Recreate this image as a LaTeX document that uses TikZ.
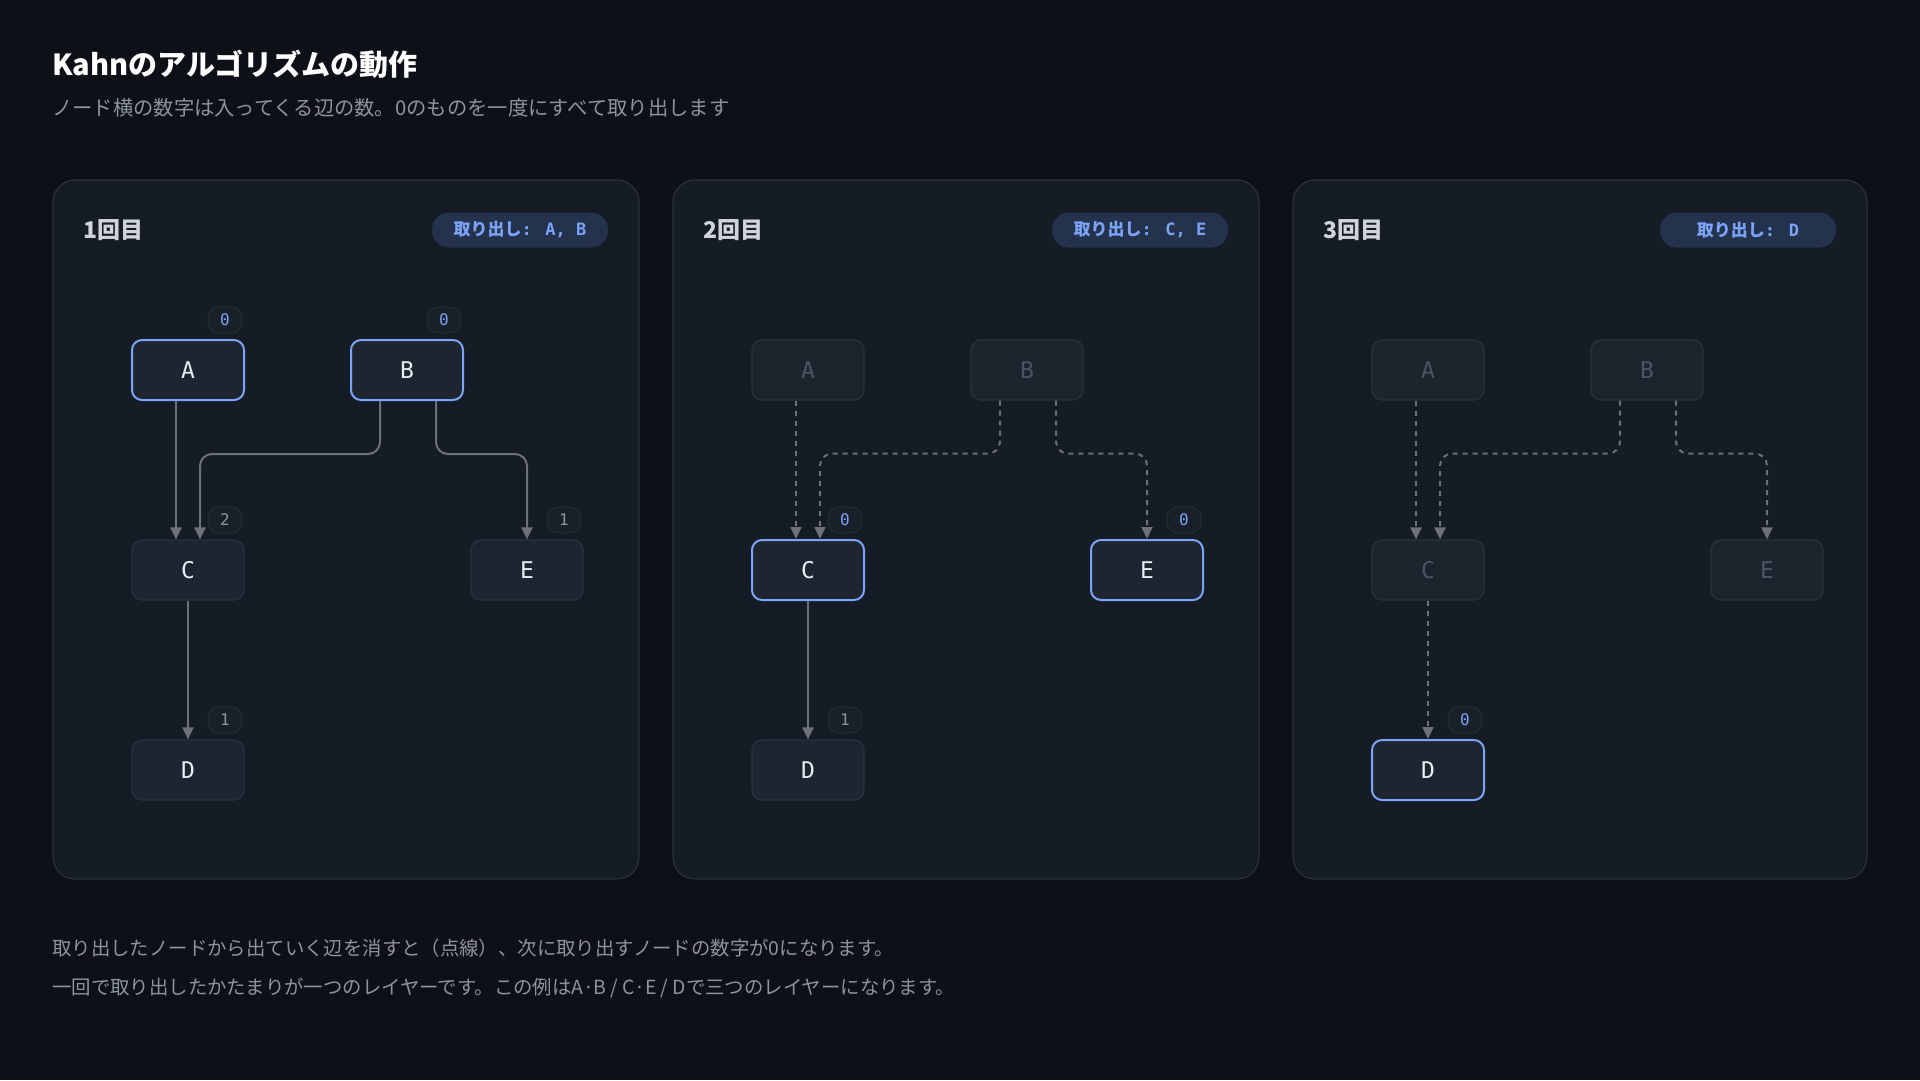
\documentclass[tikz,border=0pt]{standalone}
\usepackage{fontspec}
\setmainfont{Noto Sans CJK JP}
\newfontfamily\cjk{Noto Sans CJK JP}
\newfontfamily\mono{DejaVu Sans Mono}
\usetikzlibrary{arrows.meta,calc}
\definecolor{bg}{HTML}{0D1117}
\definecolor{panel}{HTML}{161C25}
\definecolor{pborder}{HTML}{2A313B}
\definecolor{nfill}{HTML}{1E2530}
\definecolor{nborder}{HTML}{2B323D}
\definecolor{blue}{HTML}{7BA4F7}
\definecolor{edgec}{HTML}{6B7079}
\definecolor{txt}{HTML}{E6EDF3}
\definecolor{sub}{HTML}{8B949E}
\definecolor{dimtxt}{HTML}{4B5461}
\definecolor{pill}{HTML}{25324D}
\definecolor{badge}{HTML}{1A202A}
\tikzset{
  nd/.style={draw=nborder,line width=1.2pt,fill=nfill,rounded corners=10pt,minimum width=112pt,minimum height=60pt,text=txt,font=\mono\fontsize{23}{23}\selectfont,inner sep=0pt},
  act/.style={nd,draw=blue,line width=2pt},
  dim/.style={nd,text=dimtxt,fill=nfill!85!panel},
  e/.style={draw=edgec,line width=2pt,-{Triangle[length=12pt,width=11pt]},rounded corners=12pt},
  ed/.style={e,dash pattern=on 5pt off 5pt},
  bdg/.style={fill=badge,draw=nborder,line width=0.8pt,rounded corners=11pt,minimum width=34pt,minimum height=26pt,inner sep=0pt,font=\mono\fontsize{16}{16}\selectfont},
  bz/.style={bdg,text=blue},
  bn/.style={bdg,text=sub},
  pnl/.style={fill=panel,draw=pborder,line width=1.2pt,rounded corners=22pt},
  pl/.style={fill=pill,rounded corners=17pt,minimum width=176pt,minimum height=35pt,inner sep=0pt,text=blue,font=\fontsize{17}{17}\selectfont\bfseries},
  pt/.style={anchor=west,text=txt!90!black,font=\fontsize{23}{23}\selectfont\bfseries},
}
\begin{document}
\begin{tikzpicture}[x=1pt,y=-1pt]
\fill[bg] (0,0) rectangle (1920,1080);
\useasboundingbox (0,0) rectangle (1920,1080);
\node[anchor=west,text=white,font=\fontsize{29}{29}\selectfont\bfseries,inner sep=0pt] (title) at (52,64) {Kahnのアルゴリズムの動作};
\node[anchor=west,text=sub,font=\fontsize{20.3}{20.3}\selectfont,inner sep=0pt] (subt) at (52,108) {ノード横の数字は入ってくる辺の数。0のものを一度にすべて取り出します};
% panel 1
\begin{scope}[xshift=0pt]
\draw[pnl] (53,180) rectangle (639,879);
\node[pt] (t1) at (80,230) {1回目};
\node[pl] (l1) at (520,230) {取り出し{\mono\bfseries: A, B}};
\node[act] (aA) at (188,370) {A};
\node[act] (aB) at (407,370) {B};
\node[nd] (aC) at (188,570) {C};
\node[nd] (aE) at (527,570) {E};
\node[nd] (aD) at (188,770) {D};
\node[bz] at (225,320) {0};
\node[bz] at (444,320) {0};
\node[bn] at (225,520) {2};
\node[bn] at (564,520) {1};
\node[bn] at (225,720) {1};
\draw[e] ([xshift=-12pt]aA.south) -- ([xshift=-12pt]aC.north);
\draw[e] ([xshift=-27pt]aB.south) -- ++(0,53) -| ([xshift=12pt]aC.north);
\draw[e] ([xshift=29pt]aB.south) -- ++(0,53) -| (aE.north);
\draw[e] (aC.south) -- (aD.north);
\end{scope}
% panel 2
\begin{scope}[xshift=620pt]
\draw[pnl] (53,180) rectangle (639,879);
\node[pt] (t2) at (80,230) {2回目};
\node[pl] (l2) at (520,230) {取り出し{\mono\bfseries: C, E}};
\node[dim] (bA) at (188,370) {A};
\node[dim] (bB) at (407,370) {B};
\node[act] (bC) at (188,570) {C};
\node[act] (bE) at (527,570) {E};
\node[nd] (bD) at (188,770) {D};
\node[bz] at (225,520) {0};
\node[bz] at (564,520) {0};
\node[bn] at (225,720) {1};
\draw[ed] ([xshift=-12pt]bA.south) -- ([xshift=-12pt]bC.north);
\draw[ed] ([xshift=-27pt]bB.south) -- ++(0,53) -| ([xshift=12pt]bC.north);
\draw[ed] ([xshift=29pt]bB.south) -- ++(0,53) -| (bE.north);
\draw[e] (bC.south) -- (bD.north);
\end{scope}
% panel 3
\begin{scope}[xshift=1240pt]
\draw[pnl] (53,180) rectangle (627,879);
\node[pt] (t3) at (80,230) {3回目};
\node[pl] (l3) at (508,230) {取り出し{\mono\bfseries: D}};
\node[dim] (cA) at (188,370) {A};
\node[dim] (cB) at (407,370) {B};
\node[dim] (cC) at (188,570) {C};
\node[dim] (cE) at (527,570) {E};
\node[act] (cD) at (188,770) {D};
\node[bz] at (225,720) {0};
\draw[ed] ([xshift=-12pt]cA.south) -- ([xshift=-12pt]cC.north);
\draw[ed] ([xshift=-27pt]cB.south) -- ++(0,53) -| ([xshift=12pt]cC.north);
\draw[ed] ([xshift=29pt]cB.south) -- ++(0,53) -| (cE.north);
\draw[ed] (cC.south) -- (cD.north);
\end{scope}
\node[anchor=west,text=sub,font=\fontsize{19.4}{19.4}\selectfont,inner sep=0pt] (f1) at (52,948) {取り出したノードから出ていく辺を消すと（点線）、次に取り出すノードの数字が0になります。};
\node[anchor=west,text=sub,font=\fontsize{19.4}{19.4}\selectfont,inner sep=0pt] (f2) at (52,988) {一回で取り出したかたまりが一つのレイヤーです。この例はA·B / C·E / Dで三つのレイヤーになります。};
\end{tikzpicture}
\end{document}
